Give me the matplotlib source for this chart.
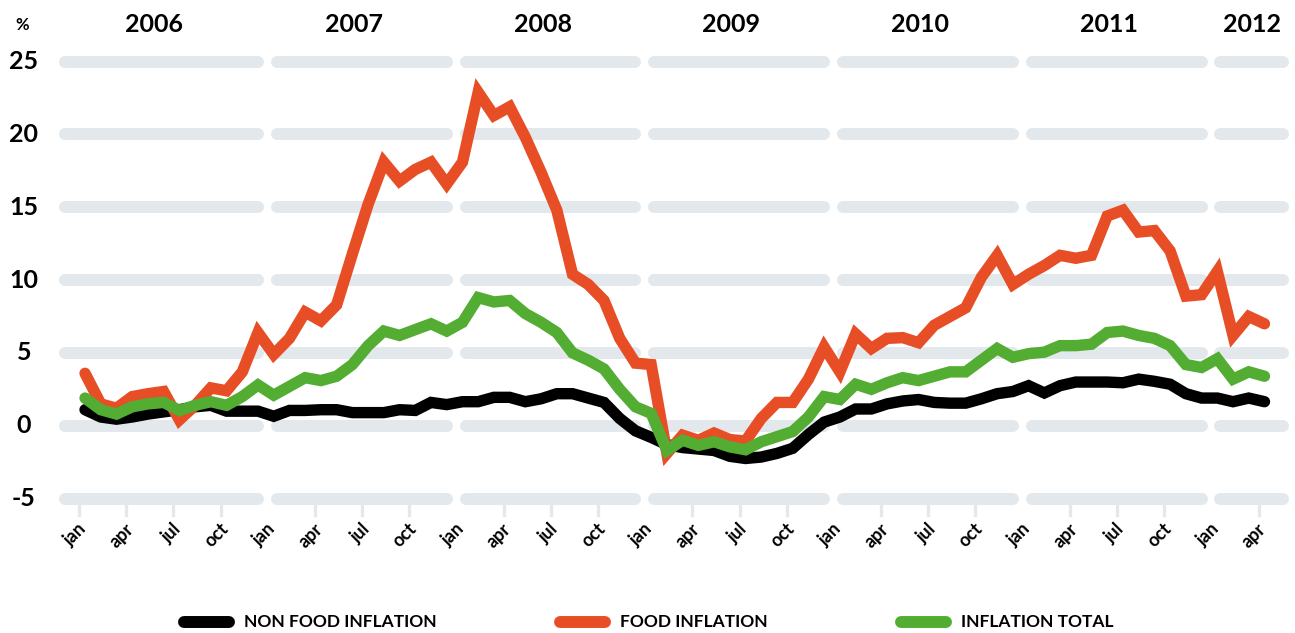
import matplotlib.pyplot as plt
from matplotlib.lines import Line2D
from matplotlib.transforms import blended_transform_factory

plt.rcParams["font.family"] = ["Lato", "DejaVu Sans"]

# monthly inflation, jan 2006 .. apr 2012 (%)
years = [2006, 2007, 2008, 2009, 2010, 2011, 2012]
month_labels = ["jan", "apr", "jul", "oct"]
y_ticks = [-5, 0, 5, 10, 15, 20, 25]

non_food = [
    1.1, 0.6, 0.45, 0.6, 0.8, 0.95, 1.1, 1.3, 1.4, 1.0, 1.0, 1.0,
    0.65, 1.05, 1.05, 1.1, 1.1, 0.9, 0.9, 0.9, 1.1, 1.05, 1.6, 1.45,
    1.65, 1.65, 1.95, 1.95, 1.65, 1.85, 2.2, 2.2, 1.9, 1.6, 0.5, -0.35,
    -0.8, -1.3, -1.5, -1.6, -1.7, -2.1, -2.25, -2.15, -1.9, -1.55, -0.6, 0.25,
    0.6, 1.15, 1.15, 1.5, 1.7, 1.8, 1.6, 1.55, 1.55, 1.85, 2.2, 2.35,
    2.75, 2.25, 2.75, 3.0, 3.0, 3.0, 2.95, 3.2, 3.05, 2.85, 2.2, 1.9,
    1.9, 1.65, 1.9, 1.65,
]

food = [
    3.6, 1.5, 1.2, 2.0, 2.2, 2.35, 0.4, 1.4, 2.6, 2.4, 3.7, 6.4,
    4.9, 6.0, 7.8, 7.2, 8.3, 11.8, 15.2, 18.1, 16.8, 17.6, 18.1, 16.6,
    18.1, 22.9, 21.3, 21.9, 19.8, 17.4, 14.8, 10.4, 9.7, 8.6, 6.0, 4.3,
    4.2, -1.9, -0.65, -1.0, -0.5, -0.95, -1.05, 0.5, 1.6, 1.6, 3.2, 5.4,
    3.7, 6.3, 5.3, 6.0, 6.05, 5.7, 6.9, 7.5, 8.1, 10.2, 11.7, 9.7,
    10.4, 11.0, 11.7, 11.5, 11.7, 14.4, 14.8, 13.3, 13.4, 12.0, 8.9, 9.0,
    10.6, 6.2, 7.5, 7.0,
]

total = [
    1.9, 1.1, 0.8, 1.3, 1.5, 1.6, 1.05, 1.4, 1.65, 1.4, 2.0, 2.8,
    2.1, 2.7, 3.3, 3.1, 3.4, 4.2, 5.5, 6.5, 6.2, 6.6, 7.0, 6.5,
    7.1, 8.8, 8.5, 8.6, 7.7, 7.1, 6.4, 5.0, 4.5, 3.9, 2.5, 1.3,
    0.85, -1.7, -1.0, -1.35, -1.1, -1.45, -1.65, -1.1, -0.75, -0.4, 0.6, 2.0,
    1.8, 2.85, 2.5, 2.95, 3.3, 3.1, 3.4, 3.7, 3.7, 4.5, 5.3, 4.7,
    4.95, 5.05, 5.5, 5.5, 5.6, 6.4, 6.5, 6.2, 6.0, 5.5, 4.2, 4.0,
    4.6, 3.2, 3.7, 3.4,
]

x = list(range(len(food)))

grid_color = "#e3e8ec"
series = [
    ("NON FOOD INFLATION", non_food, "#000000"),
    ("FOOD INFLATION", food, "#e84e25"),
    ("INFLATION TOTAL", total, "#52ad32"),
]

fig = plt.figure(figsize=(12.95, 6.33), dpi=100)
ax = fig.add_axes([0.0438, 0.1894, 0.9545, 0.7362])
ax.set_xlim(-1.8, 76.8)
ax.set_ylim(-6, 26)
ax.axis("off")

# gridlines broken into one rounded piece per year
for i, yr in enumerate(years):
    start = 12 * i + 0.2 if i > 0 else -1.27
    end = min(12 * i + 11.0, 76.2)
    for v in y_ticks:
        ax.plot([start, end], [v, v], color=grid_color, lw=8.6,
                solid_capstyle="round", zorder=1)
    shift = 0.5 if end - start > 8 else 0.0
    ax.text((start + end) / 2 - shift, 27.55, str(yr), ha="center", va="center",
            fontsize=18, fontweight="bold", clip_on=False)

# y labels
fig_y = blended_transform_factory(fig.transFigure, ax.transData)
for v in y_ticks:
    ax.text(24 / 1295, v, str(v), transform=fig_y, ha="center", va="center",
            fontsize=18, fontweight="bold")
ax.text(22 / 1295, 27.5, "%", transform=fig_y, ha="center", va="center",
        fontsize=12, fontweight="bold")

# month ticks and labels
for m in range(0, len(food), 3):
    tx = m - 0.38
    if m % 12 != 0 or m == 0:
        ax.plot([tx, tx], [-5.3, -6.1], color=grid_color, lw=2.4,
                clip_on=False, zorder=1)
    ax.text(tx + 0.3, -6.9, month_labels[(m % 12) // 3], rotation=45,
            rotation_mode="anchor", ha="right", va="center",
            fontsize=13, fontweight="bold", clip_on=False)

for z, (name, values, color) in enumerate(series):
    ax.plot(x, values, color=color, lw=8.2, solid_capstyle="round",
            solid_joinstyle="miter", zorder=3 + z)

# legend along the bottom
legend_x = [178, 554, 895]
for (name, values, color), lx in zip(series, legend_x):
    fig.add_artist(Line2D([(lx + 6) / 1295, (lx + 51) / 1295], [0.0174, 0.0174],
                          transform=fig.transFigure, color=color, lw=8.6,
                          solid_capstyle="round"))
    fig.text((lx + 66) / 1295, 0.0174, name, ha="left", va="center",
             fontsize=12.5, fontweight="bold")

fig.savefig("out.png", dpi=100)
